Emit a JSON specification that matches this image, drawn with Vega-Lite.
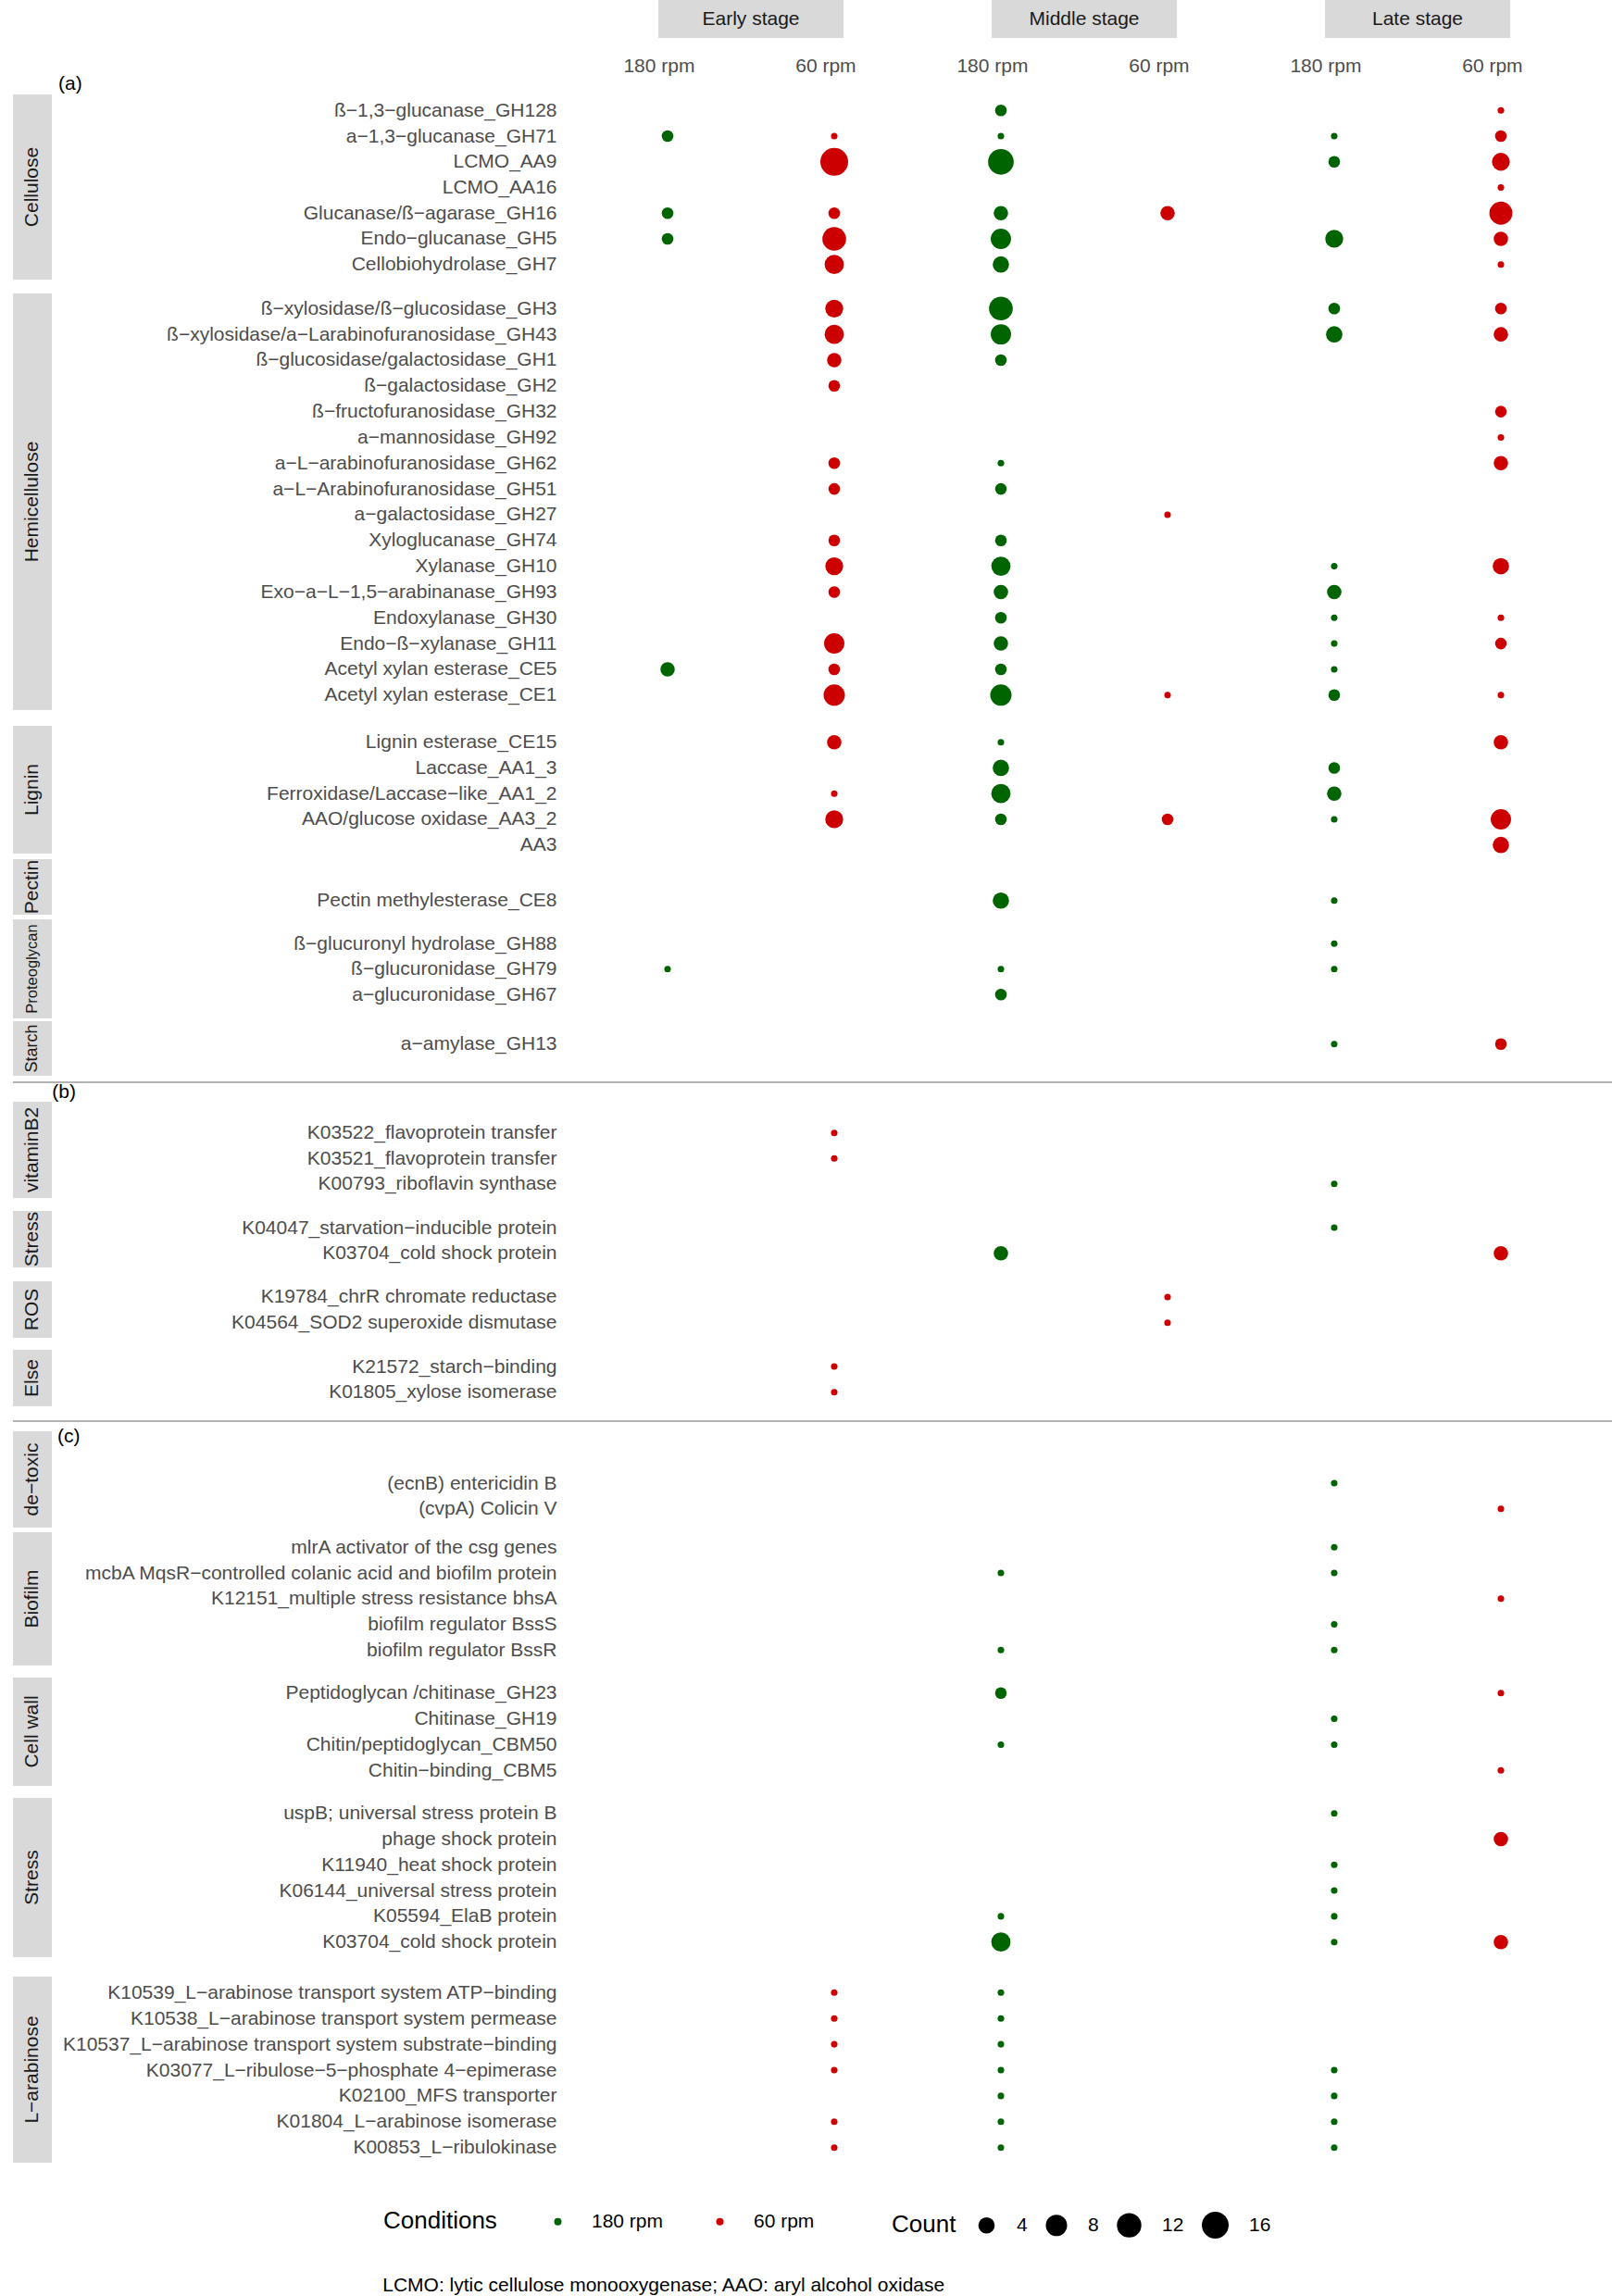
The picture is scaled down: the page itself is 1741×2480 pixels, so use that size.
{
"$schema":"https://vega.github.io/schema/vega-lite/v6.json",
"padding":{"left":13,"top":0,"right":0,"bottom":0},
"background":"#ffffff",
"spacing":0,
"config":{
 "view":{"stroke":null},
 "font":"Liberation Sans",
 "axis":{"ticks":false,"domain":false,"grid":false,"labelPadding":12,"labelFontSize":21,"labelColor":"#4d4d4d","labelLimit":700},
 "title":{"fontWeight":"normal","fontSize":21,"color":"#000000"},
 "legend":{"orient":"none","direction":"horizontal","titleOrient":"left","titleFontSize":26,"titleFontWeight":"normal","titleColor":"#000000","labelFontSize":21,"labelColor":"#000000","symbolStrokeWidth":0,"symbolOpacity":1,"symbolType":"circle"}
},
"title":{"text":"LCMO: lytic cellulose monooxygenase; AAO: aryl alcohol oxidase","orient":"bottom","anchor":"start","dx":400,"offset":51,"fontSize":21,"baseline":"middle","color":"#000000","fontWeight":"normal"},
"datasets":{
 "stages":[{"stage":"Early stage"},{"stage":"Middle stage"},{"stage":"Late stage"}],
 "cols":[{"col":"Early 180 rpm","c":"180 rpm"},{"col":"Early 60 rpm","c":"60 rpm"},{"col":"Middle 180 rpm","c":"180 rpm"},{"col":"Middle 60 rpm","c":"60 rpm"},{"col":"Late 180 rpm","c":"180 rpm"},{"col":"Late 60 rpm","c":"60 rpm"}],
 "groups":[{"sec":"a","g":"Cellulose"},{"sec":"a","g":"Hemicellulose"},{"sec":"a","g":"Lignin"},{"sec":"a","g":"Pectin"},{"sec":"a","g":"Proteoglycan"},{"sec":"a","g":"Starch"},{"sec":"b","g":"vitaminB2"},{"sec":"b","g":"Stress"},{"sec":"b","g":"ROS"},{"sec":"b","g":"Else"},{"sec":"c","g":"de−toxic"},{"sec":"c","g":"Biofilm"},{"sec":"c","g":"Cell wall"},{"sec":"c","g":"Stress"},{"sec":"c","g":"L−arabinose"}],
 "dots":[
  {"sec":"a","g":"Cellulose","e":"ß−1,3−glucanase_GH128","col":"Middle 180 rpm","c":"180 rpm","n":2},
  {"sec":"a","g":"Cellulose","e":"ß−1,3−glucanase_GH128","col":"Late 60 rpm","c":"60 rpm","n":1},
  {"sec":"a","g":"Cellulose","e":"a−1,3−glucanase_GH71","col":"Early 180 rpm","c":"180 rpm","n":2},
  {"sec":"a","g":"Cellulose","e":"a−1,3−glucanase_GH71","col":"Early 60 rpm","c":"60 rpm","n":1},
  {"sec":"a","g":"Cellulose","e":"a−1,3−glucanase_GH71","col":"Middle 180 rpm","c":"180 rpm","n":1},
  {"sec":"a","g":"Cellulose","e":"a−1,3−glucanase_GH71","col":"Late 180 rpm","c":"180 rpm","n":1},
  {"sec":"a","g":"Cellulose","e":"a−1,3−glucanase_GH71","col":"Late 60 rpm","c":"60 rpm","n":2},
  {"sec":"a","g":"Cellulose","e":"LCMO_AA9","col":"Early 60 rpm","c":"60 rpm","n":18},
  {"sec":"a","g":"Cellulose","e":"LCMO_AA9","col":"Middle 180 rpm","c":"180 rpm","n":14},
  {"sec":"a","g":"Cellulose","e":"LCMO_AA9","col":"Late 180 rpm","c":"180 rpm","n":2},
  {"sec":"a","g":"Cellulose","e":"LCMO_AA9","col":"Late 60 rpm","c":"60 rpm","n":5},
  {"sec":"a","g":"Cellulose","e":"LCMO_AA16","col":"Late 60 rpm","c":"60 rpm","n":1},
  {"sec":"a","g":"Cellulose","e":"Glucanase/ß−agarase_GH16","col":"Early 180 rpm","c":"180 rpm","n":2},
  {"sec":"a","g":"Cellulose","e":"Glucanase/ß−agarase_GH16","col":"Early 60 rpm","c":"60 rpm","n":2},
  {"sec":"a","g":"Cellulose","e":"Glucanase/ß−agarase_GH16","col":"Middle 180 rpm","c":"180 rpm","n":3},
  {"sec":"a","g":"Cellulose","e":"Glucanase/ß−agarase_GH16","col":"Middle 60 rpm","c":"60 rpm","n":3},
  {"sec":"a","g":"Cellulose","e":"Glucanase/ß−agarase_GH16","col":"Late 60 rpm","c":"60 rpm","n":10},
  {"sec":"a","g":"Cellulose","e":"Endo−glucanase_GH5","col":"Early 180 rpm","c":"180 rpm","n":2},
  {"sec":"a","g":"Cellulose","e":"Endo−glucanase_GH5","col":"Early 60 rpm","c":"60 rpm","n":11},
  {"sec":"a","g":"Cellulose","e":"Endo−glucanase_GH5","col":"Middle 180 rpm","c":"180 rpm","n":7},
  {"sec":"a","g":"Cellulose","e":"Endo−glucanase_GH5","col":"Late 180 rpm","c":"180 rpm","n":5},
  {"sec":"a","g":"Cellulose","e":"Endo−glucanase_GH5","col":"Late 60 rpm","c":"60 rpm","n":3},
  {"sec":"a","g":"Cellulose","e":"Cellobiohydrolase_GH7","col":"Early 60 rpm","c":"60 rpm","n":6},
  {"sec":"a","g":"Cellulose","e":"Cellobiohydrolase_GH7","col":"Middle 180 rpm","c":"180 rpm","n":4},
  {"sec":"a","g":"Cellulose","e":"Cellobiohydrolase_GH7","col":"Late 60 rpm","c":"60 rpm","n":1},
  {"sec":"a","g":"Hemicellulose","e":"ß−xylosidase/ß−glucosidase_GH3","col":"Early 60 rpm","c":"60 rpm","n":5},
  {"sec":"a","g":"Hemicellulose","e":"ß−xylosidase/ß−glucosidase_GH3","col":"Middle 180 rpm","c":"180 rpm","n":11},
  {"sec":"a","g":"Hemicellulose","e":"ß−xylosidase/ß−glucosidase_GH3","col":"Late 180 rpm","c":"180 rpm","n":2},
  {"sec":"a","g":"Hemicellulose","e":"ß−xylosidase/ß−glucosidase_GH3","col":"Late 60 rpm","c":"60 rpm","n":2},
  {"sec":"a","g":"Hemicellulose","e":"ß−xylosidase/a−Larabinofuranosidase_GH43","col":"Early 60 rpm","c":"60 rpm","n":6},
  {"sec":"a","g":"Hemicellulose","e":"ß−xylosidase/a−Larabinofuranosidase_GH43","col":"Middle 180 rpm","c":"180 rpm","n":7},
  {"sec":"a","g":"Hemicellulose","e":"ß−xylosidase/a−Larabinofuranosidase_GH43","col":"Late 180 rpm","c":"180 rpm","n":4},
  {"sec":"a","g":"Hemicellulose","e":"ß−xylosidase/a−Larabinofuranosidase_GH43","col":"Late 60 rpm","c":"60 rpm","n":3},
  {"sec":"a","g":"Hemicellulose","e":"ß−glucosidase/galactosidase_GH1","col":"Early 60 rpm","c":"60 rpm","n":3},
  {"sec":"a","g":"Hemicellulose","e":"ß−glucosidase/galactosidase_GH1","col":"Middle 180 rpm","c":"180 rpm","n":2},
  {"sec":"a","g":"Hemicellulose","e":"ß−galactosidase_GH2","col":"Early 60 rpm","c":"60 rpm","n":2},
  {"sec":"a","g":"Hemicellulose","e":"ß−fructofuranosidase_GH32","col":"Late 60 rpm","c":"60 rpm","n":2},
  {"sec":"a","g":"Hemicellulose","e":"a−mannosidase_GH92","col":"Late 60 rpm","c":"60 rpm","n":1},
  {"sec":"a","g":"Hemicellulose","e":"a−L−arabinofuranosidase_GH62","col":"Early 60 rpm","c":"60 rpm","n":2},
  {"sec":"a","g":"Hemicellulose","e":"a−L−arabinofuranosidase_GH62","col":"Middle 180 rpm","c":"180 rpm","n":1},
  {"sec":"a","g":"Hemicellulose","e":"a−L−arabinofuranosidase_GH62","col":"Late 60 rpm","c":"60 rpm","n":3},
  {"sec":"a","g":"Hemicellulose","e":"a−L−Arabinofuranosidase_GH51","col":"Early 60 rpm","c":"60 rpm","n":2},
  {"sec":"a","g":"Hemicellulose","e":"a−L−Arabinofuranosidase_GH51","col":"Middle 180 rpm","c":"180 rpm","n":2},
  {"sec":"a","g":"Hemicellulose","e":"a−galactosidase_GH27","col":"Middle 60 rpm","c":"60 rpm","n":1},
  {"sec":"a","g":"Hemicellulose","e":"Xyloglucanase_GH74","col":"Early 60 rpm","c":"60 rpm","n":2},
  {"sec":"a","g":"Hemicellulose","e":"Xyloglucanase_GH74","col":"Middle 180 rpm","c":"180 rpm","n":2},
  {"sec":"a","g":"Hemicellulose","e":"Xylanase_GH10","col":"Early 60 rpm","c":"60 rpm","n":5},
  {"sec":"a","g":"Hemicellulose","e":"Xylanase_GH10","col":"Middle 180 rpm","c":"180 rpm","n":6},
  {"sec":"a","g":"Hemicellulose","e":"Xylanase_GH10","col":"Late 180 rpm","c":"180 rpm","n":1},
  {"sec":"a","g":"Hemicellulose","e":"Xylanase_GH10","col":"Late 60 rpm","c":"60 rpm","n":4},
  {"sec":"a","g":"Hemicellulose","e":"Exo−a−L−1,5−arabinanase_GH93","col":"Early 60 rpm","c":"60 rpm","n":2},
  {"sec":"a","g":"Hemicellulose","e":"Exo−a−L−1,5−arabinanase_GH93","col":"Middle 180 rpm","c":"180 rpm","n":3},
  {"sec":"a","g":"Hemicellulose","e":"Exo−a−L−1,5−arabinanase_GH93","col":"Late 180 rpm","c":"180 rpm","n":3},
  {"sec":"a","g":"Hemicellulose","e":"Endoxylanase_GH30","col":"Middle 180 rpm","c":"180 rpm","n":2},
  {"sec":"a","g":"Hemicellulose","e":"Endoxylanase_GH30","col":"Late 180 rpm","c":"180 rpm","n":1},
  {"sec":"a","g":"Hemicellulose","e":"Endoxylanase_GH30","col":"Late 60 rpm","c":"60 rpm","n":1},
  {"sec":"a","g":"Hemicellulose","e":"Endo−ß−xylanase_GH11","col":"Early 60 rpm","c":"60 rpm","n":7},
  {"sec":"a","g":"Hemicellulose","e":"Endo−ß−xylanase_GH11","col":"Middle 180 rpm","c":"180 rpm","n":3},
  {"sec":"a","g":"Hemicellulose","e":"Endo−ß−xylanase_GH11","col":"Late 180 rpm","c":"180 rpm","n":1},
  {"sec":"a","g":"Hemicellulose","e":"Endo−ß−xylanase_GH11","col":"Late 60 rpm","c":"60 rpm","n":2},
  {"sec":"a","g":"Hemicellulose","e":"Acetyl xylan esterase_CE5","col":"Early 180 rpm","c":"180 rpm","n":3},
  {"sec":"a","g":"Hemicellulose","e":"Acetyl xylan esterase_CE5","col":"Early 60 rpm","c":"60 rpm","n":2},
  {"sec":"a","g":"Hemicellulose","e":"Acetyl xylan esterase_CE5","col":"Middle 180 rpm","c":"180 rpm","n":2},
  {"sec":"a","g":"Hemicellulose","e":"Acetyl xylan esterase_CE5","col":"Late 180 rpm","c":"180 rpm","n":1},
  {"sec":"a","g":"Hemicellulose","e":"Acetyl xylan esterase_CE1","col":"Early 60 rpm","c":"60 rpm","n":8},
  {"sec":"a","g":"Hemicellulose","e":"Acetyl xylan esterase_CE1","col":"Middle 180 rpm","c":"180 rpm","n":8},
  {"sec":"a","g":"Hemicellulose","e":"Acetyl xylan esterase_CE1","col":"Middle 60 rpm","c":"60 rpm","n":1},
  {"sec":"a","g":"Hemicellulose","e":"Acetyl xylan esterase_CE1","col":"Late 180 rpm","c":"180 rpm","n":2},
  {"sec":"a","g":"Hemicellulose","e":"Acetyl xylan esterase_CE1","col":"Late 60 rpm","c":"60 rpm","n":1},
  {"sec":"a","g":"Lignin","e":"Lignin esterase_CE15","col":"Early 60 rpm","c":"60 rpm","n":3},
  {"sec":"a","g":"Lignin","e":"Lignin esterase_CE15","col":"Middle 180 rpm","c":"180 rpm","n":1},
  {"sec":"a","g":"Lignin","e":"Lignin esterase_CE15","col":"Late 60 rpm","c":"60 rpm","n":3},
  {"sec":"a","g":"Lignin","e":"Laccase_AA1_3","col":"Middle 180 rpm","c":"180 rpm","n":4},
  {"sec":"a","g":"Lignin","e":"Laccase_AA1_3","col":"Late 180 rpm","c":"180 rpm","n":2},
  {"sec":"a","g":"Lignin","e":"Ferroxidase/Laccase−like_AA1_2","col":"Early 60 rpm","c":"60 rpm","n":1},
  {"sec":"a","g":"Lignin","e":"Ferroxidase/Laccase−like_AA1_2","col":"Middle 180 rpm","c":"180 rpm","n":6},
  {"sec":"a","g":"Lignin","e":"Ferroxidase/Laccase−like_AA1_2","col":"Late 180 rpm","c":"180 rpm","n":3},
  {"sec":"a","g":"Lignin","e":"AAO/glucose oxidase_AA3_2","col":"Early 60 rpm","c":"60 rpm","n":5},
  {"sec":"a","g":"Lignin","e":"AAO/glucose oxidase_AA3_2","col":"Middle 180 rpm","c":"180 rpm","n":2},
  {"sec":"a","g":"Lignin","e":"AAO/glucose oxidase_AA3_2","col":"Middle 60 rpm","c":"60 rpm","n":2},
  {"sec":"a","g":"Lignin","e":"AAO/glucose oxidase_AA3_2","col":"Late 180 rpm","c":"180 rpm","n":1},
  {"sec":"a","g":"Lignin","e":"AAO/glucose oxidase_AA3_2","col":"Late 60 rpm","c":"60 rpm","n":7},
  {"sec":"a","g":"Lignin","e":"AA3","col":"Late 60 rpm","c":"60 rpm","n":4},
  {"sec":"a","g":"Pectin","e":"Pectin methylesterase_CE8","col":"Middle 180 rpm","c":"180 rpm","n":4},
  {"sec":"a","g":"Pectin","e":"Pectin methylesterase_CE8","col":"Late 180 rpm","c":"180 rpm","n":1},
  {"sec":"a","g":"Proteoglycan","e":"ß−glucuronyl hydrolase_GH88","col":"Late 180 rpm","c":"180 rpm","n":1},
  {"sec":"a","g":"Proteoglycan","e":"ß−glucuronidase_GH79","col":"Early 180 rpm","c":"180 rpm","n":1},
  {"sec":"a","g":"Proteoglycan","e":"ß−glucuronidase_GH79","col":"Middle 180 rpm","c":"180 rpm","n":1},
  {"sec":"a","g":"Proteoglycan","e":"ß−glucuronidase_GH79","col":"Late 180 rpm","c":"180 rpm","n":1},
  {"sec":"a","g":"Proteoglycan","e":"a−glucuronidase_GH67","col":"Middle 180 rpm","c":"180 rpm","n":2},
  {"sec":"a","g":"Starch","e":"a−amylase_GH13","col":"Late 180 rpm","c":"180 rpm","n":1},
  {"sec":"a","g":"Starch","e":"a−amylase_GH13","col":"Late 60 rpm","c":"60 rpm","n":2},
  {"sec":"b","g":"vitaminB2","e":"K03522_flavoprotein transfer","col":"Early 60 rpm","c":"60 rpm","n":1},
  {"sec":"b","g":"vitaminB2","e":"K03521_flavoprotein transfer","col":"Early 60 rpm","c":"60 rpm","n":1},
  {"sec":"b","g":"vitaminB2","e":"K00793_riboflavin synthase","col":"Late 180 rpm","c":"180 rpm","n":1},
  {"sec":"b","g":"Stress","e":"K04047_starvation−inducible protein","col":"Late 180 rpm","c":"180 rpm","n":1},
  {"sec":"b","g":"Stress","e":"K03704_cold shock protein","col":"Middle 180 rpm","c":"180 rpm","n":3},
  {"sec":"b","g":"Stress","e":"K03704_cold shock protein","col":"Late 60 rpm","c":"60 rpm","n":3},
  {"sec":"b","g":"ROS","e":"K19784_chrR chromate reductase","col":"Middle 60 rpm","c":"60 rpm","n":1},
  {"sec":"b","g":"ROS","e":"K04564_SOD2 superoxide dismutase","col":"Middle 60 rpm","c":"60 rpm","n":1},
  {"sec":"b","g":"Else","e":"K21572_starch−binding","col":"Early 60 rpm","c":"60 rpm","n":1},
  {"sec":"b","g":"Else","e":"K01805_xylose isomerase","col":"Early 60 rpm","c":"60 rpm","n":1},
  {"sec":"c","g":"de−toxic","e":"(ecnB) entericidin B","col":"Late 180 rpm","c":"180 rpm","n":1},
  {"sec":"c","g":"de−toxic","e":"(cvpA) Colicin V","col":"Late 60 rpm","c":"60 rpm","n":1},
  {"sec":"c","g":"Biofilm","e":"mlrA activator of the csg genes","col":"Late 180 rpm","c":"180 rpm","n":1},
  {"sec":"c","g":"Biofilm","e":"mcbA MqsR−controlled colanic acid and biofilm protein","col":"Middle 180 rpm","c":"180 rpm","n":1},
  {"sec":"c","g":"Biofilm","e":"mcbA MqsR−controlled colanic acid and biofilm protein","col":"Late 180 rpm","c":"180 rpm","n":1},
  {"sec":"c","g":"Biofilm","e":"K12151_multiple stress resistance bhsA","col":"Late 60 rpm","c":"60 rpm","n":1},
  {"sec":"c","g":"Biofilm","e":"biofilm regulator BssS","col":"Late 180 rpm","c":"180 rpm","n":1},
  {"sec":"c","g":"Biofilm","e":"biofilm regulator BssR","col":"Middle 180 rpm","c":"180 rpm","n":1},
  {"sec":"c","g":"Biofilm","e":"biofilm regulator BssR","col":"Late 180 rpm","c":"180 rpm","n":1},
  {"sec":"c","g":"Cell wall","e":"Peptidoglycan /chitinase_GH23","col":"Middle 180 rpm","c":"180 rpm","n":2},
  {"sec":"c","g":"Cell wall","e":"Peptidoglycan /chitinase_GH23","col":"Late 60 rpm","c":"60 rpm","n":1},
  {"sec":"c","g":"Cell wall","e":"Chitinase_GH19","col":"Late 180 rpm","c":"180 rpm","n":1},
  {"sec":"c","g":"Cell wall","e":"Chitin/peptidoglycan_CBM50","col":"Middle 180 rpm","c":"180 rpm","n":1},
  {"sec":"c","g":"Cell wall","e":"Chitin/peptidoglycan_CBM50","col":"Late 180 rpm","c":"180 rpm","n":1},
  {"sec":"c","g":"Cell wall","e":"Chitin−binding_CBM5","col":"Late 60 rpm","c":"60 rpm","n":1},
  {"sec":"c","g":"Stress","e":"uspB; universal stress protein B","col":"Late 180 rpm","c":"180 rpm","n":1},
  {"sec":"c","g":"Stress","e":"phage shock protein","col":"Late 60 rpm","c":"60 rpm","n":3},
  {"sec":"c","g":"Stress","e":"K11940_heat shock protein","col":"Late 180 rpm","c":"180 rpm","n":1},
  {"sec":"c","g":"Stress","e":"K06144_universal stress protein","col":"Late 180 rpm","c":"180 rpm","n":1},
  {"sec":"c","g":"Stress","e":"K05594_ElaB protein","col":"Middle 180 rpm","c":"180 rpm","n":1},
  {"sec":"c","g":"Stress","e":"K05594_ElaB protein","col":"Late 180 rpm","c":"180 rpm","n":1},
  {"sec":"c","g":"Stress","e":"K03704_cold shock protein","col":"Middle 180 rpm","c":"180 rpm","n":6},
  {"sec":"c","g":"Stress","e":"K03704_cold shock protein","col":"Late 180 rpm","c":"180 rpm","n":1},
  {"sec":"c","g":"Stress","e":"K03704_cold shock protein","col":"Late 60 rpm","c":"60 rpm","n":3},
  {"sec":"c","g":"L−arabinose","e":"K10539_L−arabinose transport system ATP−binding","col":"Early 60 rpm","c":"60 rpm","n":1},
  {"sec":"c","g":"L−arabinose","e":"K10539_L−arabinose transport system ATP−binding","col":"Middle 180 rpm","c":"180 rpm","n":1},
  {"sec":"c","g":"L−arabinose","e":"K10538_L−arabinose transport system permease","col":"Early 60 rpm","c":"60 rpm","n":1},
  {"sec":"c","g":"L−arabinose","e":"K10538_L−arabinose transport system permease","col":"Middle 180 rpm","c":"180 rpm","n":1},
  {"sec":"c","g":"L−arabinose","e":"K10537_L−arabinose transport system substrate−binding","col":"Early 60 rpm","c":"60 rpm","n":1},
  {"sec":"c","g":"L−arabinose","e":"K10537_L−arabinose transport system substrate−binding","col":"Middle 180 rpm","c":"180 rpm","n":1},
  {"sec":"c","g":"L−arabinose","e":"K03077_L−ribulose−5−phosphate 4−epimerase","col":"Early 60 rpm","c":"60 rpm","n":1},
  {"sec":"c","g":"L−arabinose","e":"K03077_L−ribulose−5−phosphate 4−epimerase","col":"Middle 180 rpm","c":"180 rpm","n":1},
  {"sec":"c","g":"L−arabinose","e":"K03077_L−ribulose−5−phosphate 4−epimerase","col":"Late 180 rpm","c":"180 rpm","n":1},
  {"sec":"c","g":"L−arabinose","e":"K02100_MFS transporter","col":"Middle 180 rpm","c":"180 rpm","n":1},
  {"sec":"c","g":"L−arabinose","e":"K02100_MFS transporter","col":"Late 180 rpm","c":"180 rpm","n":1},
  {"sec":"c","g":"L−arabinose","e":"K01804_L−arabinose isomerase","col":"Early 60 rpm","c":"60 rpm","n":1},
  {"sec":"c","g":"L−arabinose","e":"K01804_L−arabinose isomerase","col":"Middle 180 rpm","c":"180 rpm","n":1},
  {"sec":"c","g":"L−arabinose","e":"K01804_L−arabinose isomerase","col":"Late 180 rpm","c":"180 rpm","n":1},
  {"sec":"c","g":"L−arabinose","e":"K00853_L−ribulokinase","col":"Early 60 rpm","c":"60 rpm","n":1},
  {"sec":"c","g":"L−arabinose","e":"K00853_L−ribulokinase","col":"Middle 180 rpm","c":"180 rpm","n":1},
  {"sec":"c","g":"L−arabinose","e":"K00853_L−ribulokinase","col":"Late 180 rpm","c":"180 rpm","n":1}
 ]
},
"vconcat":[
 {"hconcat":[
   {"width":42,"height":41,"data":{"values":[]},"mark":"point"},
   {"width":1116,"height":41,"data":{"name":"stages"},
    "encoding":{"x":{"field":"stage","type":"nominal","scale":{"domain":["Early stage","Middle stage","Late stage"],"paddingInner":0.444,"paddingOuter":0.272,"round":false},"axis":null}},
    "layer":[
      {"mark":{"type":"rect","color":"#d9d9d9"}},
      {"mark":{"type":"text","fontSize":21,"color":"#1a1a1a"},"encoding":{"text":{"field":"stage"}}}
    ]}
  ],"spacing":557,"bounds":"flush"},
 {"hconcat":[
   {"width":42,"height":61,"data":{"values":[]},"mark":"point",
    "title":{"text":"(a)","orient":"bottom","anchor":"start","dx":49,"offset":-11,"baseline":"middle"}},
   {"width":1116,"height":61,"data":{"name":"cols"},"mark":{"type":"text","fontSize":21,"color":"#4d4d4d"},
    "encoding":{"x":{"field":"col","type":"nominal","scale":{"domain":["Early 180 rpm","Early 60 rpm","Middle 180 rpm","Middle 60 rpm","Late 180 rpm","Late 60 rpm"],"padding":0.6,"align":0.458,"round":false},"axis":null},"text":{"field":"c"}}}
  ],"spacing":557,"bounds":"flush"},
 {"concat":[
   {"width":42,"height":200,"data":{"name":"groups"},"transform":[{"filter":"datum.sec=='a' && datum.g=='Cellulose'"}],
    "layer":[{"mark":{"type":"rect","color":"#d9d9d9"},"encoding":{}},{"mark":{"type":"text","angle":270,"fontSize":21,"color":"#1a1a1a"},"encoding":{"text":{"field":"g"}}}]},
   {"width":1116,"height":215,"data":{"name":"dots"},"transform":[{"filter":"datum.sec=='a' && datum.g=='Cellulose'"}],"mark":{"type":"circle","opacity":1},
    "encoding":{"x":{"field":"col","type":"nominal","scale":{"domain":["Early 180 rpm","Early 60 rpm","Middle 180 rpm","Middle 60 rpm","Late 180 rpm","Late 60 rpm"],"padding":0.6,"round":false},"axis":null},
     "y":{"field":"e","type":"nominal","title":null,"scale":{"domain":["ß−1,3−glucanase_GH128","a−1,3−glucanase_GH71","LCMO_AA9","LCMO_AA16","Glucanase/ß−agarase_GH16","Endo−glucanase_GH5","Cellobiohydrolase_GH7"],"padding":0.877,"align":0.356,"round":false}},
     "color":{"field":"c","type":"nominal","scale":{"domain":["180 rpm","60 rpm"],"range":["#006400","#cc0000"]},"legend":{"title":"Conditions","legendX":400,"legendY":2389,"titlePadding":55,"labelOffset":26,"columnPadding":50,"symbolSize":64}},
     "size":{"field":"n","type":"quantitative","scale":{"type":"sqrt","domain":[1,18],"range":[50,900]},"legend":{"title":"Count","legendX":949,"legendY":2389,"titlePadding":22,"labelOffset":22,"columnPadding":19,"values":[4,8,12,16],"symbolFillColor":"#000000"}}}},
   {"width":42,"height":450,"data":{"name":"groups"},"transform":[{"filter":"datum.sec=='a' && datum.g=='Hemicellulose'"}],
    "layer":[{"mark":{"type":"rect","color":"#d9d9d9"},"encoding":{}},{"mark":{"type":"text","angle":270,"fontSize":21,"color":"#1a1a1a"},"encoding":{"text":{"field":"g"}}}]},
   {"width":1116,"height":467,"data":{"name":"dots"},"transform":[{"filter":"datum.sec=='a' && datum.g=='Hemicellulose'"}],"mark":{"type":"circle","opacity":1},
    "encoding":{"x":{"field":"col","type":"nominal","scale":{"domain":["Early 180 rpm","Early 60 rpm","Middle 180 rpm","Middle 60 rpm","Late 180 rpm","Late 60 rpm"],"padding":0.6,"round":false},"axis":null},
     "y":{"field":"e","type":"nominal","title":null,"scale":{"domain":["ß−xylosidase/ß−glucosidase_GH3","ß−xylosidase/a−Larabinofuranosidase_GH43","ß−glucosidase/galactosidase_GH1","ß−galactosidase_GH2","ß−fructofuranosidase_GH32","a−mannosidase_GH92","a−L−arabinofuranosidase_GH62","a−L−Arabinofuranosidase_GH51","a−galactosidase_GH27","Xyloglucanase_GH74","Xylanase_GH10","Exo−a−L−1,5−arabinanase_GH93","Endoxylanase_GH30","Endo−ß−xylanase_GH11","Acetyl xylan esterase_CE5","Acetyl xylan esterase_CE1"],"padding":0.89,"align":0.329,"round":false}},
     "color":{"field":"c","type":"nominal","scale":{"domain":["180 rpm","60 rpm"],"range":["#006400","#cc0000"]},"legend":{"title":"Conditions","legendX":400,"legendY":2389,"titlePadding":55,"labelOffset":26,"columnPadding":50,"symbolSize":64}},
     "size":{"field":"n","type":"quantitative","scale":{"type":"sqrt","domain":[1,18],"range":[50,900]},"legend":{"title":"Count","legendX":949,"legendY":2389,"titlePadding":22,"labelOffset":22,"columnPadding":19,"values":[4,8,12,16],"symbolFillColor":"#000000"}}}},
   {"width":42,"height":138,"data":{"name":"groups"},"transform":[{"filter":"datum.sec=='a' && datum.g=='Lignin'"}],
    "layer":[{"mark":{"type":"rect","color":"#d9d9d9"},"encoding":{}},{"mark":{"type":"text","angle":270,"fontSize":21,"color":"#1a1a1a"},"encoding":{"text":{"field":"g"}}}]},
   {"width":1116,"height":144,"data":{"name":"dots"},"transform":[{"filter":"datum.sec=='a' && datum.g=='Lignin'"}],"mark":{"type":"circle","opacity":1},
    "encoding":{"x":{"field":"col","type":"nominal","scale":{"domain":["Early 180 rpm","Early 60 rpm","Middle 180 rpm","Middle 60 rpm","Late 180 rpm","Late 60 rpm"],"padding":0.6,"round":false},"axis":null},
     "y":{"field":"e","type":"nominal","title":null,"scale":{"domain":["Lignin esterase_CE15","Laccase_AA1_3","Ferroxidase/Laccase−like_AA1_2","AAO/glucose oxidase_AA3_2","AA3"],"padding":0.595,"align":0.536,"round":false}},
     "color":{"field":"c","type":"nominal","scale":{"domain":["180 rpm","60 rpm"],"range":["#006400","#cc0000"]},"legend":{"title":"Conditions","legendX":400,"legendY":2389,"titlePadding":55,"labelOffset":26,"columnPadding":50,"symbolSize":64}},
     "size":{"field":"n","type":"quantitative","scale":{"type":"sqrt","domain":[1,18],"range":[50,900]},"legend":{"title":"Count","legendX":949,"legendY":2389,"titlePadding":22,"labelOffset":22,"columnPadding":19,"values":[4,8,12,16],"symbolFillColor":"#000000"}}}},
   {"width":42,"height":60,"data":{"name":"groups"},"transform":[{"filter":"datum.sec=='a' && datum.g=='Pectin'"}],
    "layer":[{"mark":{"type":"rect","color":"#d9d9d9"},"encoding":{}},{"mark":{"type":"text","angle":270,"fontSize":21,"color":"#1a1a1a"},"encoding":{"text":{"field":"g"}}}]},
   {"width":1116,"height":65,"data":{"name":"dots"},"transform":[{"filter":"datum.sec=='a' && datum.g=='Pectin'"}],"mark":{"type":"circle","opacity":1},
    "encoding":{"x":{"field":"col","type":"nominal","scale":{"domain":["Early 180 rpm","Early 60 rpm","Middle 180 rpm","Middle 60 rpm","Late 180 rpm","Late 60 rpm"],"padding":0.6,"round":false},"axis":null},
     "y":{"field":"e","type":"nominal","title":null,"scale":{"domain":["Pectin methylesterase_CE8"],"padding":0.5,"align":0.688,"round":false}},
     "color":{"field":"c","type":"nominal","scale":{"domain":["180 rpm","60 rpm"],"range":["#006400","#cc0000"]},"legend":{"title":"Conditions","legendX":400,"legendY":2389,"titlePadding":55,"labelOffset":26,"columnPadding":50,"symbolSize":64}},
     "size":{"field":"n","type":"quantitative","scale":{"type":"sqrt","domain":[1,18],"range":[50,900]},"legend":{"title":"Count","legendX":949,"legendY":2389,"titlePadding":22,"labelOffset":22,"columnPadding":19,"values":[4,8,12,16],"symbolFillColor":"#000000"}}}},
   {"width":42,"height":107,"data":{"name":"groups"},"transform":[{"filter":"datum.sec=='a' && datum.g=='Proteoglycan'"}],
    "layer":[{"mark":{"type":"rect","color":"#d9d9d9"},"encoding":{}},{"mark":{"type":"text","angle":270,"fontSize":16.5,"color":"#1a1a1a"},"encoding":{"text":{"field":"g"}}}]},
   {"width":1116,"height":110,"data":{"name":"dots"},"transform":[{"filter":"datum.sec=='a' && datum.g=='Proteoglycan'"}],"mark":{"type":"circle","opacity":1},
    "encoding":{"x":{"field":"col","type":"nominal","scale":{"domain":["Early 180 rpm","Early 60 rpm","Middle 180 rpm","Middle 60 rpm","Late 180 rpm","Late 60 rpm"],"padding":0.6,"round":false},"axis":null},
     "y":{"field":"e","type":"nominal","title":null,"scale":{"domain":["ß−glucuronyl hydrolase_GH88","ß−glucuronidase_GH79","a−glucuronidase_GH67"],"padding":1,"align":0.478,"round":false}},
     "color":{"field":"c","type":"nominal","scale":{"domain":["180 rpm","60 rpm"],"range":["#006400","#cc0000"]},"legend":{"title":"Conditions","legendX":400,"legendY":2389,"titlePadding":55,"labelOffset":26,"columnPadding":50,"symbolSize":64}},
     "size":{"field":"n","type":"quantitative","scale":{"type":"sqrt","domain":[1,18],"range":[50,900]},"legend":{"title":"Count","legendX":949,"legendY":2389,"titlePadding":22,"labelOffset":22,"columnPadding":19,"values":[4,8,12,16],"symbolFillColor":"#000000"}}}},
   {"width":42,"height":59,"data":{"name":"groups"},"transform":[{"filter":"datum.sec=='a' && datum.g=='Starch'"}],
    "layer":[{"mark":{"type":"rect","color":"#d9d9d9"},"encoding":{}},{"mark":{"type":"text","angle":270,"fontSize":18,"color":"#1a1a1a"},"encoding":{"text":{"field":"g"}}}]},
   {"width":1116,"height":65,"data":{"name":"dots"},"transform":[{"filter":"datum.sec=='a' && datum.g=='Starch'"}],"mark":{"type":"circle","opacity":1},
    "encoding":{"x":{"field":"col","type":"nominal","scale":{"domain":["Early 180 rpm","Early 60 rpm","Middle 180 rpm","Middle 60 rpm","Late 180 rpm","Late 60 rpm"],"padding":0.6,"round":false},"axis":null},
     "y":{"field":"e","type":"nominal","title":null,"scale":{"domain":["a−amylase_GH13"],"padding":0.5,"align":0.38,"round":false}},
     "color":{"field":"c","type":"nominal","scale":{"domain":["180 rpm","60 rpm"],"range":["#006400","#cc0000"]},"legend":{"title":"Conditions","legendX":400,"legendY":2389,"titlePadding":55,"labelOffset":26,"columnPadding":50,"symbolSize":64}},
     "size":{"field":"n","type":"quantitative","scale":{"type":"sqrt","domain":[1,18],"range":[50,900]},"legend":{"title":"Count","legendX":949,"legendY":2389,"titlePadding":22,"labelOffset":22,"columnPadding":19,"values":[4,8,12,16],"symbolFillColor":"#000000"}}}}
  ],"columns":2,"spacing":{"row":0,"column":557},"bounds":"flush","align":"each"},
 {"width":1728,"height":21,"data":{"values":[{}]},"mark":{"type":"rule","color":"#999999","strokeWidth":1.5},
  "encoding":{"x":{"datum":0,"type":"quantitative","scale":{"domain":[0,1]},"axis":null},"x2":{"datum":1},"y":{"datum":1,"type":"quantitative","scale":{"domain":[0,1]},"axis":null}},
  "title":{"text":"(b)","orient":"bottom","anchor":"start","dx":43,"offset":-10,"baseline":"middle"}},
 {"concat":[
   {"width":42,"height":104,"data":{"name":"groups"},"transform":[{"filter":"datum.sec=='b' && datum.g=='vitaminB2'"}],
    "layer":[{"mark":{"type":"rect","color":"#d9d9d9"},"encoding":{}},{"mark":{"type":"text","angle":270,"fontSize":21,"color":"#1a1a1a"},"encoding":{"text":{"field":"g"}}}]},
   {"width":1116,"height":118,"data":{"name":"dots"},"transform":[{"filter":"datum.sec=='b' && datum.g=='vitaminB2'"}],"mark":{"type":"circle","opacity":1},
    "encoding":{"x":{"field":"col","type":"nominal","scale":{"domain":["Early 180 rpm","Early 60 rpm","Middle 180 rpm","Middle 60 rpm","Late 180 rpm","Late 60 rpm"],"padding":0.6,"round":false},"axis":null},
     "y":{"field":"e","type":"nominal","title":null,"scale":{"domain":["K03522_flavoprotein transfer","K03521_flavoprotein transfer","K00793_riboflavin synthase"," "],"padding":0.645,"align":0.949,"round":false}},
     "color":{"field":"c","type":"nominal","scale":{"domain":["180 rpm","60 rpm"],"range":["#006400","#cc0000"]},"legend":{"title":"Conditions","legendX":400,"legendY":2389,"titlePadding":55,"labelOffset":26,"columnPadding":50,"symbolSize":64}},
     "size":{"field":"n","type":"quantitative","scale":{"type":"sqrt","domain":[1,18],"range":[50,900]},"legend":{"title":"Count","legendX":949,"legendY":2389,"titlePadding":22,"labelOffset":22,"columnPadding":19,"values":[4,8,12,16],"symbolFillColor":"#000000"}}}},
   {"width":42,"height":61,"data":{"name":"groups"},"transform":[{"filter":"datum.sec=='b' && datum.g=='Stress'"}],
    "layer":[{"mark":{"type":"rect","color":"#d9d9d9"},"encoding":{}},{"mark":{"type":"text","angle":270,"fontSize":21,"color":"#1a1a1a"},"encoding":{"text":{"field":"g"}}}]},
   {"width":1116,"height":76,"data":{"name":"dots"},"transform":[{"filter":"datum.sec=='b' && datum.g=='Stress'"}],"mark":{"type":"circle","opacity":1},
    "encoding":{"x":{"field":"col","type":"nominal","scale":{"domain":["Early 180 rpm","Early 60 rpm","Middle 180 rpm","Middle 60 rpm","Late 180 rpm","Late 60 rpm"],"padding":0.6,"round":false},"axis":null},
     "y":{"field":"e","type":"nominal","title":null,"scale":{"domain":["K04047_starvation−inducible protein","K03704_cold shock protein"],"padding":0.872,"align":0.373,"round":false}},
     "color":{"field":"c","type":"nominal","scale":{"domain":["180 rpm","60 rpm"],"range":["#006400","#cc0000"]},"legend":{"title":"Conditions","legendX":400,"legendY":2389,"titlePadding":55,"labelOffset":26,"columnPadding":50,"symbolSize":64}},
     "size":{"field":"n","type":"quantitative","scale":{"type":"sqrt","domain":[1,18],"range":[50,900]},"legend":{"title":"Count","legendX":949,"legendY":2389,"titlePadding":22,"labelOffset":22,"columnPadding":19,"values":[4,8,12,16],"symbolFillColor":"#000000"}}}},
   {"width":42,"height":61,"data":{"name":"groups"},"transform":[{"filter":"datum.sec=='b' && datum.g=='ROS'"}],
    "layer":[{"mark":{"type":"rect","color":"#d9d9d9"},"encoding":{}},{"mark":{"type":"text","angle":270,"fontSize":21,"color":"#1a1a1a"},"encoding":{"text":{"field":"g"}}}]},
   {"width":1116,"height":74,"data":{"name":"dots"},"transform":[{"filter":"datum.sec=='b' && datum.g=='ROS'"}],"mark":{"type":"circle","opacity":1},
    "encoding":{"x":{"field":"col","type":"nominal","scale":{"domain":["Early 180 rpm","Early 60 rpm","Middle 180 rpm","Middle 60 rpm","Late 180 rpm","Late 60 rpm"],"padding":0.6,"round":false},"axis":null},
     "y":{"field":"e","type":"nominal","title":null,"scale":{"domain":["K19784_chrR chromate reductase","K04564_SOD2 superoxide dismutase"],"padding":0.836,"align":0.367,"round":false}},
     "color":{"field":"c","type":"nominal","scale":{"domain":["180 rpm","60 rpm"],"range":["#006400","#cc0000"]},"legend":{"title":"Conditions","legendX":400,"legendY":2389,"titlePadding":55,"labelOffset":26,"columnPadding":50,"symbolSize":64}},
     "size":{"field":"n","type":"quantitative","scale":{"type":"sqrt","domain":[1,18],"range":[50,900]},"legend":{"title":"Count","legendX":949,"legendY":2389,"titlePadding":22,"labelOffset":22,"columnPadding":19,"values":[4,8,12,16],"symbolFillColor":"#000000"}}}},
   {"width":42,"height":61,"data":{"name":"groups"},"transform":[{"filter":"datum.sec=='b' && datum.g=='Else'"}],
    "layer":[{"mark":{"type":"rect","color":"#d9d9d9"},"encoding":{}},{"mark":{"type":"text","angle":270,"fontSize":21,"color":"#1a1a1a"},"encoding":{"text":{"field":"g"}}}]},
   {"width":1116,"height":76,"data":{"name":"dots"},"transform":[{"filter":"datum.sec=='b' && datum.g=='Else'"}],"mark":{"type":"circle","opacity":1},
    "encoding":{"x":{"field":"col","type":"nominal","scale":{"domain":["Early 180 rpm","Early 60 rpm","Middle 180 rpm","Middle 60 rpm","Late 180 rpm","Late 60 rpm"],"padding":0.6,"round":false},"axis":null},
     "y":{"field":"e","type":"nominal","title":null,"scale":{"domain":["K21572_starch−binding","K01805_xylose isomerase"],"padding":0.872,"align":0.373,"round":false}},
     "color":{"field":"c","type":"nominal","scale":{"domain":["180 rpm","60 rpm"],"range":["#006400","#cc0000"]},"legend":{"title":"Conditions","legendX":400,"legendY":2389,"titlePadding":55,"labelOffset":26,"columnPadding":50,"symbolSize":64}},
     "size":{"field":"n","type":"quantitative","scale":{"type":"sqrt","domain":[1,18],"range":[50,900]},"legend":{"title":"Count","legendX":949,"legendY":2389,"titlePadding":22,"labelOffset":22,"columnPadding":19,"values":[4,8,12,16],"symbolFillColor":"#000000"}}}}
  ],"columns":2,"spacing":{"row":0,"column":557},"bounds":"flush","align":"each"},
 {"width":1728,"height":5,"data":{"values":[{}]},"mark":{"type":"rule","color":"#999999","strokeWidth":1.5},
  "encoding":{"x":{"datum":0,"type":"quantitative","scale":{"domain":[0,1]},"axis":null},"x2":{"datum":1},"y":{"datum":1,"type":"quantitative","scale":{"domain":[0,1]},"axis":null}}},
 {"concat":[
   {"width":42,"height":104,"data":{"name":"groups"},"transform":[{"filter":"datum.sec=='c' && datum.g=='de−toxic'"}],
    "title":{"text":"(c)","orient":"bottom","anchor":"start","dx":48,"offset":-98.5,"baseline":"middle"},
    "layer":[{"mark":{"type":"rect","color":"#d9d9d9"},"encoding":{}},{"mark":{"type":"text","angle":270,"fontSize":21,"color":"#1a1a1a"},"encoding":{"text":{"field":"g"}}}]},
   {"width":1116,"height":109,"data":{"name":"dots"},"transform":[{"filter":"datum.sec=='c' && datum.g=='de−toxic'"}],"mark":{"type":"circle","opacity":1},
    "encoding":{"x":{"field":"col","type":"nominal","scale":{"domain":["Early 180 rpm","Early 60 rpm","Middle 180 rpm","Middle 60 rpm","Late 180 rpm","Late 60 rpm"],"padding":0.6,"round":false},"axis":null},
     "y":{"field":"e","type":"nominal","title":null,"scale":{"domain":[" ","(ecnB) entericidin B","(cvpA) Colicin V"],"padding":0.967,"align":0.528,"round":false}},
     "color":{"field":"c","type":"nominal","scale":{"domain":["180 rpm","60 rpm"],"range":["#006400","#cc0000"]},"legend":{"title":"Conditions","legendX":400,"legendY":2389,"titlePadding":55,"labelOffset":26,"columnPadding":50,"symbolSize":64}},
     "size":{"field":"n","type":"quantitative","scale":{"type":"sqrt","domain":[1,18],"range":[50,900]},"legend":{"title":"Count","legendX":949,"legendY":2389,"titlePadding":22,"labelOffset":22,"columnPadding":19,"values":[4,8,12,16],"symbolFillColor":"#000000"}}}},
   {"width":42,"height":144,"data":{"name":"groups"},"transform":[{"filter":"datum.sec=='c' && datum.g=='Biofilm'"}],
    "layer":[{"mark":{"type":"rect","color":"#d9d9d9"},"encoding":{}},{"mark":{"type":"text","angle":270,"fontSize":21,"color":"#1a1a1a"},"encoding":{"text":{"field":"g"}}}]},
   {"width":1116,"height":157,"data":{"name":"dots"},"transform":[{"filter":"datum.sec=='c' && datum.g=='Biofilm'"}],"mark":{"type":"circle","opacity":1},
    "encoding":{"x":{"field":"col","type":"nominal","scale":{"domain":["Early 180 rpm","Early 60 rpm","Middle 180 rpm","Middle 60 rpm","Late 180 rpm","Late 60 rpm"],"padding":0.6,"round":false},"axis":null},
     "y":{"field":"e","type":"nominal","title":null,"scale":{"domain":["mlrA activator of the csg genes","mcbA MqsR−controlled colanic acid and biofilm protein","K12151_multiple stress resistance bhsA","biofilm regulator BssS","biofilm regulator BssR"],"padding":0.829,"align":0.354,"round":false}},
     "color":{"field":"c","type":"nominal","scale":{"domain":["180 rpm","60 rpm"],"range":["#006400","#cc0000"]},"legend":{"title":"Conditions","legendX":400,"legendY":2389,"titlePadding":55,"labelOffset":26,"columnPadding":50,"symbolSize":64}},
     "size":{"field":"n","type":"quantitative","scale":{"type":"sqrt","domain":[1,18],"range":[50,900]},"legend":{"title":"Count","legendX":949,"legendY":2389,"titlePadding":22,"labelOffset":22,"columnPadding":19,"values":[4,8,12,16],"symbolFillColor":"#000000"}}}},
   {"width":42,"height":117,"data":{"name":"groups"},"transform":[{"filter":"datum.sec=='c' && datum.g=='Cell wall'"}],
    "layer":[{"mark":{"type":"rect","color":"#d9d9d9"},"encoding":{}},{"mark":{"type":"text","angle":270,"fontSize":21,"color":"#1a1a1a"},"encoding":{"text":{"field":"g"}}}]},
   {"width":1116,"height":130,"data":{"name":"dots"},"transform":[{"filter":"datum.sec=='c' && datum.g=='Cell wall'"}],"mark":{"type":"circle","opacity":1},
    "encoding":{"x":{"field":"col","type":"nominal","scale":{"domain":["Early 180 rpm","Early 60 rpm","Middle 180 rpm","Middle 60 rpm","Late 180 rpm","Late 60 rpm"],"padding":0.6,"round":false},"axis":null},
     "y":{"field":"e","type":"nominal","title":null,"scale":{"domain":["Peptidoglycan /chitinase_GH23","Chitinase_GH19","Chitin/peptidoglycan_CBM50","Chitin−binding_CBM5"],"padding":0.832,"align":0.36,"round":false}},
     "color":{"field":"c","type":"nominal","scale":{"domain":["180 rpm","60 rpm"],"range":["#006400","#cc0000"]},"legend":{"title":"Conditions","legendX":400,"legendY":2389,"titlePadding":55,"labelOffset":26,"columnPadding":50,"symbolSize":64}},
     "size":{"field":"n","type":"quantitative","scale":{"type":"sqrt","domain":[1,18],"range":[50,900]},"legend":{"title":"Count","legendX":949,"legendY":2389,"titlePadding":22,"labelOffset":22,"columnPadding":19,"values":[4,8,12,16],"symbolFillColor":"#000000"}}}},
   {"width":42,"height":172,"data":{"name":"groups"},"transform":[{"filter":"datum.sec=='c' && datum.g=='Stress'"}],
    "layer":[{"mark":{"type":"rect","color":"#d9d9d9"},"encoding":{}},{"mark":{"type":"text","angle":270,"fontSize":21,"color":"#1a1a1a"},"encoding":{"text":{"field":"g"}}}]},
   {"width":1116,"height":193,"data":{"name":"dots"},"transform":[{"filter":"datum.sec=='c' && datum.g=='Stress'"}],"mark":{"type":"circle","opacity":1},
    "encoding":{"x":{"field":"col","type":"nominal","scale":{"domain":["Early 180 rpm","Early 60 rpm","Middle 180 rpm","Middle 60 rpm","Late 180 rpm","Late 60 rpm"],"padding":0.6,"round":false},"axis":null},
     "y":{"field":"e","type":"nominal","title":null,"scale":{"domain":["uspB; universal stress protein B","phage shock protein","K11940_heat shock protein","K06144_universal stress protein","K05594_ElaB protein","K03704_cold shock protein"],"padding":0.971,"align":0.309,"round":false}},
     "color":{"field":"c","type":"nominal","scale":{"domain":["180 rpm","60 rpm"],"range":["#006400","#cc0000"]},"legend":{"title":"Conditions","legendX":400,"legendY":2389,"titlePadding":55,"labelOffset":26,"columnPadding":50,"symbolSize":64}},
     "size":{"field":"n","type":"quantitative","scale":{"type":"sqrt","domain":[1,18],"range":[50,900]},"legend":{"title":"Count","legendX":949,"legendY":2389,"titlePadding":22,"labelOffset":22,"columnPadding":19,"values":[4,8,12,16],"symbolFillColor":"#000000"}}}},
   {"width":42,"height":201,"data":{"name":"groups"},"transform":[{"filter":"datum.sec=='c' && datum.g=='L−arabinose'"}],
    "layer":[{"mark":{"type":"rect","color":"#d9d9d9"},"encoding":{}},{"mark":{"type":"text","angle":270,"fontSize":21,"color":"#1a1a1a"},"encoding":{"text":{"field":"g"}}}]},
   {"width":1116,"height":201,"data":{"name":"dots"},"transform":[{"filter":"datum.sec=='c' && datum.g=='L−arabinose'"}],"mark":{"type":"circle","opacity":1},
    "encoding":{"x":{"field":"col","type":"nominal","scale":{"domain":["Early 180 rpm","Early 60 rpm","Middle 180 rpm","Middle 60 rpm","Late 180 rpm","Late 60 rpm"],"padding":0.6,"round":false},"axis":null},
     "y":{"field":"e","type":"nominal","title":null,"scale":{"domain":["K10539_L−arabinose transport system ATP−binding","K10538_L−arabinose transport system permease","K10537_L−arabinose transport system substrate−binding","K03077_L−ribulose−5−phosphate 4−epimerase","K02100_MFS transporter","K01804_L−arabinose isomerase","K00853_L−ribulokinase"],"padding":0.602,"align":0.515,"round":false}},
     "color":{"field":"c","type":"nominal","scale":{"domain":["180 rpm","60 rpm"],"range":["#006400","#cc0000"]},"legend":{"title":"Conditions","legendX":400,"legendY":2389,"titlePadding":55,"labelOffset":26,"columnPadding":50,"symbolSize":64}},
     "size":{"field":"n","type":"quantitative","scale":{"type":"sqrt","domain":[1,18],"range":[50,900]},"legend":{"title":"Count","legendX":949,"legendY":2389,"titlePadding":22,"labelOffset":22,"columnPadding":19,"values":[4,8,12,16],"symbolFillColor":"#000000"}}}}
  ],"columns":2,"spacing":{"row":0,"column":557},"bounds":"flush","align":"each"}
]
}
